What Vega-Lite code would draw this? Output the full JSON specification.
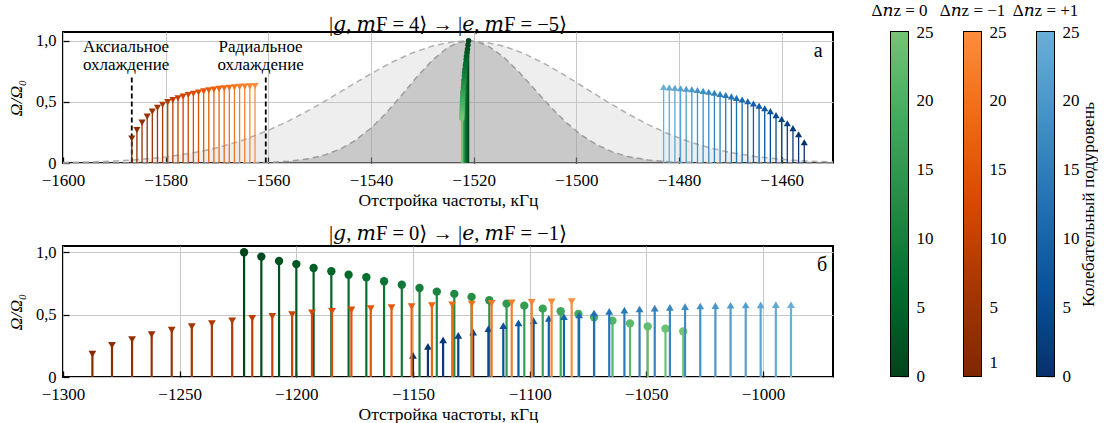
{
  "$schema": "https://vega.github.io/schema/vega-lite/v6.json",
  "background": "white",
  "padding": {"left": 6, "top": 1, "right": 0, "bottom": 0},
  "config": {
    "font": "Liberation Serif, DejaVu Serif, serif",
    "view": {"stroke": "black", "strokeWidth": 2},
    "axis": {
      "labelFont": "Liberation Serif, DejaVu Serif, serif", "titleFont": "Liberation Serif, DejaVu Serif, serif",
      "labelFontSize": 17, "titleFontSize": 17.5, "titleFontWeight": "normal",
      "labelColor": "black", "titleColor": "black", "domain": false, "labelFlush": false,
      "tickColor": "black", "tickSize": -6, "tickWidth": 1.3, "labelPadding": 13,
      "gridColor": "#c8c8c8", "gridWidth": 1, "labelOverlap": false
    },
    "axisY": {"labelFontSize": 16.5},
    "axisX": {"labelPadding": 15},
    "title": {"font": "Liberation Serif, DejaVu Serif, serif", "fontSize": 20.5, "fontWeight": "normal", "color": "black", "baseline": "alphabetic", "offset": -3}
  },
  "datasets": {
    "gw": [
      {"f": -1600, "r": 0.004}, {"f": -1595, "r": 0.009}, {"f": -1590, "r": 0.016}, {"f": -1585, "r": 0.029},
      {"f": -1580, "r": 0.049}, {"f": -1575, "r": 0.080}, {"f": -1570, "r": 0.124}, {"f": -1565, "r": 0.186},
      {"f": -1560, "r": 0.267}, {"f": -1556, "r": 0.345}, {"f": -1552, "r": 0.434}, {"f": -1548, "r": 0.531},
      {"f": -1544, "r": 0.632}, {"f": -1540, "r": 0.731}, {"f": -1536, "r": 0.823}, {"f": -1532, "r": 0.900},
      {"f": -1528, "r": 0.958}, {"f": -1524, "r": 0.992}, {"f": -1521, "r": 1.0}, {"f": -1518, "r": 0.991},
      {"f": -1514, "r": 0.955}, {"f": -1510, "r": 0.892}, {"f": -1506, "r": 0.808}, {"f": -1502, "r": 0.711},
      {"f": -1498, "r": 0.607}, {"f": -1494, "r": 0.502}, {"f": -1490, "r": 0.403}, {"f": -1486, "r": 0.314},
      {"f": -1482, "r": 0.237}, {"f": -1478, "r": 0.174}, {"f": -1474, "r": 0.124}, {"f": -1470, "r": 0.086},
      {"f": -1465, "r": 0.052}, {"f": -1460, "r": 0.030}, {"f": -1455, "r": 0.016}, {"f": -1450, "r": 0.009}
    ],
    "gn": [
      {"f": -1600, "r": 0}, {"f": -1575, "r": 0}, {"f": -1570, "r": 0.0002}, {"f": -1565, "r": 0.001},
      {"f": -1560, "r": 0.005}, {"f": -1556, "r": 0.014}, {"f": -1552, "r": 0.036}, {"f": -1549, "r": 0.066},
      {"f": -1546, "r": 0.114}, {"f": -1543, "r": 0.186}, {"f": -1540, "r": 0.286}, {"f": -1537, "r": 0.411},
      {"f": -1534, "r": 0.556}, {"f": -1531, "r": 0.707}, {"f": -1528, "r": 0.843}, {"f": -1525, "r": 0.946},
      {"f": -1523, "r": 0.986}, {"f": -1521, "r": 1.0}, {"f": -1519, "r": 0.988}, {"f": -1517, "r": 0.952},
      {"f": -1514, "r": 0.861}, {"f": -1511, "r": 0.737}, {"f": -1508, "r": 0.597}, {"f": -1505, "r": 0.458},
      {"f": -1502, "r": 0.332}, {"f": -1499, "r": 0.228}, {"f": -1496, "r": 0.149}, {"f": -1493, "r": 0.091},
      {"f": -1490, "r": 0.053}, {"f": -1486, "r": 0.024}, {"f": -1482, "r": 0.010}, {"f": -1476, "r": 0.002},
      {"f": -1470, "r": 0.0004}, {"f": -1460, "r": 0}, {"f": -1450, "r": 0}
    ],
    "cool": [{"f": -1586.6, "r": 0.70}, {"f": -1560.5, "r": 0.70}],
    "notes": [
      {"p": "a", "k": "cool", "f": -1587.7, "r": 0.908, "t": "Аксиальное\nохлаждение"},
      {"p": "a", "k": "cool", "f": -1561.5, "r": 0.908, "t": "Радиальное\nохлаждение"},
      {"p": "a", "k": "corner", "f": -1452, "r": 0.868, "t": "а"},
      {"p": "b", "k": "corner", "f": -972.5, "r": 0.851, "t": "б"}
    ],
    "cb": [{"lo": 0, "hi": 25}],
    "stems": [
      {"p": "a", "s": "g", "n": 0, "f": -1521.0, "r": 1.0},
      {"p": "a", "s": "g", "n": 1, "f": -1521.1, "r": 0.965},
      {"p": "a", "s": "g", "n": 2, "f": -1521.2, "r": 0.93},
      {"p": "a", "s": "g", "n": 3, "f": -1521.3, "r": 0.905},
      {"p": "a", "s": "g", "n": 4, "f": -1521.4, "r": 0.874},
      {"p": "a", "s": "g", "n": 5, "f": -1521.45, "r": 0.848},
      {"p": "a", "s": "g", "n": 6, "f": -1521.5, "r": 0.82},
      {"p": "a", "s": "g", "n": 7, "f": -1521.6, "r": 0.80},
      {"p": "a", "s": "g", "n": 8, "f": -1521.7, "r": 0.767},
      {"p": "a", "s": "g", "n": 9, "f": -1521.75, "r": 0.74},
      {"p": "a", "s": "g", "n": 10, "f": -1521.8, "r": 0.714},
      {"p": "a", "s": "g", "n": 11, "f": -1521.85, "r": 0.684},
      {"p": "a", "s": "g", "n": 12, "f": -1521.9, "r": 0.666},
      {"p": "a", "s": "g", "n": 13, "f": -1521.95, "r": 0.642},
      {"p": "a", "s": "g", "n": 14, "f": -1522.0, "r": 0.615},
      {"p": "a", "s": "g", "n": 15, "f": -1522.05, "r": 0.588},
      {"p": "a", "s": "g", "n": 16, "f": -1522.1, "r": 0.572},
      {"p": "a", "s": "g", "n": 17, "f": -1522.12, "r": 0.548},
      {"p": "a", "s": "g", "n": 18, "f": -1522.15, "r": 0.527},
      {"p": "a", "s": "g", "n": 19, "f": -1522.18, "r": 0.505},
      {"p": "a", "s": "g", "n": 20, "f": -1522.2, "r": 0.479},
      {"p": "a", "s": "g", "n": 21, "f": -1522.23, "r": 0.452},
      {"p": "a", "s": "g", "n": 22, "f": -1522.25, "r": 0.43},
      {"p": "a", "s": "g", "n": 23, "f": -1522.28, "r": 0.406},
      {"p": "a", "s": "g", "n": 24, "f": -1522.3, "r": 0.388},
      {"p": "a", "s": "g", "n": 25, "f": -1522.32, "r": 0.366},
      {"p": "a", "s": "o", "n": 1, "f": -1586.6, "r": 0.20},
      {"p": "a", "s": "o", "n": 2, "f": -1585.6, "r": 0.27},
      {"p": "a", "s": "o", "n": 3, "f": -1584.6, "r": 0.33},
      {"p": "a", "s": "o", "n": 4, "f": -1583.6, "r": 0.38},
      {"p": "a", "s": "o", "n": 5, "f": -1582.6, "r": 0.42},
      {"p": "a", "s": "o", "n": 6, "f": -1581.6, "r": 0.452},
      {"p": "a", "s": "o", "n": 7, "f": -1580.6, "r": 0.477},
      {"p": "a", "s": "o", "n": 8, "f": -1579.6, "r": 0.498},
      {"p": "a", "s": "o", "n": 9, "f": -1578.6, "r": 0.515},
      {"p": "a", "s": "o", "n": 10, "f": -1577.6, "r": 0.53},
      {"p": "a", "s": "o", "n": 11, "f": -1576.6, "r": 0.544},
      {"p": "a", "s": "o", "n": 12, "f": -1575.6, "r": 0.556},
      {"p": "a", "s": "o", "n": 13, "f": -1574.6, "r": 0.567},
      {"p": "a", "s": "o", "n": 14, "f": -1573.6, "r": 0.577},
      {"p": "a", "s": "o", "n": 15, "f": -1572.6, "r": 0.586},
      {"p": "a", "s": "o", "n": 16, "f": -1571.6, "r": 0.594},
      {"p": "a", "s": "o", "n": 17, "f": -1570.6, "r": 0.601},
      {"p": "a", "s": "o", "n": 18, "f": -1569.6, "r": 0.607},
      {"p": "a", "s": "o", "n": 19, "f": -1568.6, "r": 0.612},
      {"p": "a", "s": "o", "n": 20, "f": -1567.6, "r": 0.616},
      {"p": "a", "s": "o", "n": 21, "f": -1566.6, "r": 0.62},
      {"p": "a", "s": "o", "n": 22, "f": -1565.6, "r": 0.623},
      {"p": "a", "s": "o", "n": 23, "f": -1564.6, "r": 0.625},
      {"p": "a", "s": "o", "n": 24, "f": -1563.6, "r": 0.627},
      {"p": "a", "s": "o", "n": 25, "f": -1562.6, "r": 0.629},
      {"p": "a", "s": "b", "n": 0, "f": -1455.6, "r": 0.17},
      {"p": "a", "s": "b", "n": 1, "f": -1456.7, "r": 0.235},
      {"p": "a", "s": "b", "n": 2, "f": -1457.8, "r": 0.285},
      {"p": "a", "s": "b", "n": 3, "f": -1458.9, "r": 0.325},
      {"p": "a", "s": "b", "n": 4, "f": -1460.0, "r": 0.36},
      {"p": "a", "s": "b", "n": 5, "f": -1461.1, "r": 0.392},
      {"p": "a", "s": "b", "n": 6, "f": -1462.2, "r": 0.425},
      {"p": "a", "s": "b", "n": 7, "f": -1463.3, "r": 0.448},
      {"p": "a", "s": "b", "n": 8, "f": -1464.4, "r": 0.468},
      {"p": "a", "s": "b", "n": 9, "f": -1465.5, "r": 0.487},
      {"p": "a", "s": "b", "n": 10, "f": -1466.6, "r": 0.505},
      {"p": "a", "s": "b", "n": 11, "f": -1467.7, "r": 0.52},
      {"p": "a", "s": "b", "n": 12, "f": -1468.8, "r": 0.533},
      {"p": "a", "s": "b", "n": 13, "f": -1469.8, "r": 0.545},
      {"p": "a", "s": "b", "n": 14, "f": -1470.9, "r": 0.556},
      {"p": "a", "s": "b", "n": 15, "f": -1472.0, "r": 0.566},
      {"p": "a", "s": "b", "n": 16, "f": -1473.1, "r": 0.575},
      {"p": "a", "s": "b", "n": 17, "f": -1474.2, "r": 0.583},
      {"p": "a", "s": "b", "n": 18, "f": -1475.3, "r": 0.59},
      {"p": "a", "s": "b", "n": 19, "f": -1476.4, "r": 0.597},
      {"p": "a", "s": "b", "n": 20, "f": -1477.5, "r": 0.603},
      {"p": "a", "s": "b", "n": 21, "f": -1478.6, "r": 0.608},
      {"p": "a", "s": "b", "n": 22, "f": -1479.7, "r": 0.612},
      {"p": "a", "s": "b", "n": 23, "f": -1480.8, "r": 0.616},
      {"p": "a", "s": "b", "n": 24, "f": -1481.9, "r": 0.619},
      {"p": "a", "s": "b", "n": 25, "f": -1483.0, "r": 0.622},
      {"p": "b", "s": "g", "n": 0, "f": -1222.4, "r": 1.0},
      {"p": "b", "s": "g", "n": 1, "f": -1215.0, "r": 0.965},
      {"p": "b", "s": "g", "n": 2, "f": -1207.4, "r": 0.93},
      {"p": "b", "s": "g", "n": 3, "f": -1200.0, "r": 0.905},
      {"p": "b", "s": "g", "n": 4, "f": -1192.6, "r": 0.874},
      {"p": "b", "s": "g", "n": 5, "f": -1185.0, "r": 0.848},
      {"p": "b", "s": "g", "n": 6, "f": -1177.6, "r": 0.82},
      {"p": "b", "s": "g", "n": 7, "f": -1170.0, "r": 0.80},
      {"p": "b", "s": "g", "n": 8, "f": -1162.4, "r": 0.767},
      {"p": "b", "s": "g", "n": 9, "f": -1154.8, "r": 0.74},
      {"p": "b", "s": "g", "n": 10, "f": -1147.2, "r": 0.714},
      {"p": "b", "s": "g", "n": 11, "f": -1139.8, "r": 0.684},
      {"p": "b", "s": "g", "n": 12, "f": -1132.3, "r": 0.666},
      {"p": "b", "s": "g", "n": 13, "f": -1124.9, "r": 0.642},
      {"p": "b", "s": "g", "n": 14, "f": -1117.3, "r": 0.615},
      {"p": "b", "s": "g", "n": 15, "f": -1109.9, "r": 0.588},
      {"p": "b", "s": "g", "n": 16, "f": -1102.3, "r": 0.572},
      {"p": "b", "s": "g", "n": 17, "f": -1094.4, "r": 0.548},
      {"p": "b", "s": "g", "n": 18, "f": -1086.7, "r": 0.527},
      {"p": "b", "s": "g", "n": 19, "f": -1079.1, "r": 0.505},
      {"p": "b", "s": "g", "n": 20, "f": -1072.4, "r": 0.479},
      {"p": "b", "s": "g", "n": 21, "f": -1064.5, "r": 0.452},
      {"p": "b", "s": "g", "n": 22, "f": -1057.0, "r": 0.43},
      {"p": "b", "s": "g", "n": 23, "f": -1049.4, "r": 0.406},
      {"p": "b", "s": "g", "n": 24, "f": -1041.8, "r": 0.388},
      {"p": "b", "s": "g", "n": 25, "f": -1034.2, "r": 0.366},
      {"p": "b", "s": "o", "n": 1, "f": -1287.4, "r": 0.184},
      {"p": "b", "s": "o", "n": 2, "f": -1279.0, "r": 0.254},
      {"p": "b", "s": "o", "n": 3, "f": -1270.4, "r": 0.30},
      {"p": "b", "s": "o", "n": 4, "f": -1262.0, "r": 0.34},
      {"p": "b", "s": "o", "n": 5, "f": -1253.4, "r": 0.375},
      {"p": "b", "s": "o", "n": 6, "f": -1244.8, "r": 0.404},
      {"p": "b", "s": "o", "n": 7, "f": -1236.2, "r": 0.428},
      {"p": "b", "s": "o", "n": 8, "f": -1227.5, "r": 0.45},
      {"p": "b", "s": "o", "n": 9, "f": -1218.9, "r": 0.47},
      {"p": "b", "s": "o", "n": 10, "f": -1210.3, "r": 0.486},
      {"p": "b", "s": "o", "n": 11, "f": -1201.8, "r": 0.50},
      {"p": "b", "s": "o", "n": 12, "f": -1193.3, "r": 0.515},
      {"p": "b", "s": "o", "n": 13, "f": -1184.7, "r": 0.527},
      {"p": "b", "s": "o", "n": 14, "f": -1176.4, "r": 0.538},
      {"p": "b", "s": "o", "n": 15, "f": -1168.1, "r": 0.548},
      {"p": "b", "s": "o", "n": 16, "f": -1159.2, "r": 0.556},
      {"p": "b", "s": "o", "n": 17, "f": -1150.6, "r": 0.565},
      {"p": "b", "s": "o", "n": 18, "f": -1141.9, "r": 0.572},
      {"p": "b", "s": "o", "n": 19, "f": -1133.2, "r": 0.579},
      {"p": "b", "s": "o", "n": 20, "f": -1124.8, "r": 0.585},
      {"p": "b", "s": "o", "n": 21, "f": -1116.3, "r": 0.59},
      {"p": "b", "s": "o", "n": 22, "f": -1107.7, "r": 0.595},
      {"p": "b", "s": "o", "n": 23, "f": -1099.1, "r": 0.599},
      {"p": "b", "s": "o", "n": 24, "f": -1090.6, "r": 0.602},
      {"p": "b", "s": "o", "n": 25, "f": -1082.0, "r": 0.604},
      {"p": "b", "s": "b", "n": 0, "f": -1150.0, "r": 0.174},
      {"p": "b", "s": "b", "n": 1, "f": -1143.6, "r": 0.246},
      {"p": "b", "s": "b", "n": 2, "f": -1137.1, "r": 0.297},
      {"p": "b", "s": "b", "n": 3, "f": -1130.6, "r": 0.334},
      {"p": "b", "s": "b", "n": 4, "f": -1124.2, "r": 0.36},
      {"p": "b", "s": "b", "n": 5, "f": -1117.7, "r": 0.388},
      {"p": "b", "s": "b", "n": 6, "f": -1111.3, "r": 0.412},
      {"p": "b", "s": "b", "n": 7, "f": -1104.8, "r": 0.433},
      {"p": "b", "s": "b", "n": 8, "f": -1098.3, "r": 0.452},
      {"p": "b", "s": "b", "n": 9, "f": -1091.8, "r": 0.47},
      {"p": "b", "s": "b", "n": 10, "f": -1085.3, "r": 0.484},
      {"p": "b", "s": "b", "n": 11, "f": -1078.8, "r": 0.497},
      {"p": "b", "s": "b", "n": 12, "f": -1072.4, "r": 0.513},
      {"p": "b", "s": "b", "n": 13, "f": -1065.9, "r": 0.526},
      {"p": "b", "s": "b", "n": 14, "f": -1059.4, "r": 0.536},
      {"p": "b", "s": "b", "n": 15, "f": -1052.9, "r": 0.545},
      {"p": "b", "s": "b", "n": 16, "f": -1046.4, "r": 0.552},
      {"p": "b", "s": "b", "n": 17, "f": -1039.9, "r": 0.558},
      {"p": "b", "s": "b", "n": 18, "f": -1033.4, "r": 0.564},
      {"p": "b", "s": "b", "n": 19, "f": -1026.9, "r": 0.569},
      {"p": "b", "s": "b", "n": 20, "f": -1020.4, "r": 0.572},
      {"p": "b", "s": "b", "n": 21, "f": -1013.9, "r": 0.575},
      {"p": "b", "s": "b", "n": 22, "f": -1007.4, "r": 0.577},
      {"p": "b", "s": "b", "n": 23, "f": -1001.0, "r": 0.578},
      {"p": "b", "s": "b", "n": 24, "f": -994.5, "r": 0.58},
      {"p": "b", "s": "b", "n": 25, "f": -988.0, "r": 0.58}
    ]
  },
  "spacing": 33,
  "hconcat": [
    {
      "spacing": 12,
      "vconcat": [
        {
          "width": 770, "height": 131,
          "title": {"text": "|𝑔, 𝑚F = 4⟩ → |𝑒, 𝑚F = −5⟩"},
          "encoding": {
            "x": {"field": "f", "type": "quantitative", "scale": {"domain": [-1600, -1450], "nice": false, "zero": false},
                  "axis": {"values": [-1600, -1580, -1560, -1540, -1520, -1500, -1480, -1460], "format": "d", "title": "Отстройка частоты, кГц", "titlePadding": 3}},
            "y": {"field": "r", "type": "quantitative", "scale": {"domain": [0, 1.072], "nice": false},
                  "axis": {"values": [0, 0.5, 1], "labelExpr": "datum.value == 0 ? '0' : replace(format(datum.value, '.1f'), '.', ',')", "title": "Ω/Ω₀", "titleFontStyle": "italic", "titlePadding": 10}}
          },
          "layer": [
            {"data": {"name": "gw"}, "mark": {"type": "area", "color": "#bbbbbb", "opacity": 0.25}},
            {"data": {"name": "gw"}, "mark": {"type": "line", "color": "#b0b0b0", "strokeDash": [6, 4], "strokeWidth": 1.5}},
            {"data": {"name": "gn"}, "mark": {"type": "area", "color": "#969696", "opacity": 0.42}},
            {"data": {"name": "gn"}, "mark": {"type": "line", "color": "#9c9c9c", "strokeDash": [6, 4], "strokeWidth": 1.5}},
            {"data": {"name": "cool"}, "mark": {"type": "rule", "color": "black", "strokeDash": [5, 3], "strokeWidth": 1.8}, "encoding": {"y2": {"datum": 0}}},
            {"data": {"name": "notes"}, "transform": [{"filter": "datum.p == 'a' && datum.k == 'cool'"}],
             "mark": {"type": "text", "font": "Liberation Serif, DejaVu Serif, serif", "fontSize": 17, "lineBreak": "\n", "lineHeight": 17.5, "baseline": "alphabetic", "align": "center", "color": "black"},
             "encoding": {"text": {"field": "t"}}},
            {"data": {"name": "notes"}, "transform": [{"filter": "datum.p == 'a' && datum.k == 'corner'"}],
             "mark": {"type": "text", "font": "Liberation Serif, DejaVu Serif, serif", "fontSize": 20, "baseline": "alphabetic", "align": "right", "color": "black"},
             "encoding": {"text": {"field": "t"}}},
            {"data": {"name": "stems"}, "transform": [{"filter": "datum.p == 'a' && datum.s == 'o'"}],
             "mark": {"type": "rule", "strokeWidth": 1.3},
             "encoding": {"y2": {"datum": 0}, "color": {"field": "n", "type": "quantitative", "legend": null, "scale": {"domain": [0, 6.25, 12.5, 18.75, 25], "range": ["#7f2704", "#a63603", "#d94801", "#f16913", "#fd8d3c"], "interpolate": "rgb"}}}},
            {"data": {"name": "stems"}, "transform": [{"filter": "datum.p == 'a' && datum.s == 'o'"}],
             "mark": {"type": "point", "shape": "triangle-down", "filled": true, "size": 50, "opacity": 1},
             "encoding": {"color": {"field": "n", "type": "quantitative", "legend": null, "scale": {"domain": [0, 6.25, 12.5, 18.75, 25], "range": ["#7f2704", "#a63603", "#d94801", "#f16913", "#fd8d3c"], "interpolate": "rgb"}}}},
            {"data": {"name": "stems"}, "transform": [{"filter": "datum.p == 'a' && datum.s == 'b'"}],
             "mark": {"type": "rule", "strokeWidth": 1.3},
             "encoding": {"y2": {"datum": 0}, "color": {"field": "n", "type": "quantitative", "legend": null, "scale": {"domain": [0, 6.25, 12.5, 18.75, 25], "range": ["#08306b", "#08519c", "#2171b5", "#4292c6", "#6baed6"], "interpolate": "rgb"}}}},
            {"data": {"name": "stems"}, "transform": [{"filter": "datum.p == 'a' && datum.s == 'b'"}],
             "mark": {"type": "point", "shape": "triangle-up", "filled": true, "size": 50, "opacity": 1},
             "encoding": {"color": {"field": "n", "type": "quantitative", "legend": null, "scale": {"domain": [0, 6.25, 12.5, 18.75, 25], "range": ["#08306b", "#08519c", "#2171b5", "#4292c6", "#6baed6"], "interpolate": "rgb"}}}},
            {"data": {"name": "stems"}, "transform": [{"filter": "datum.p == 'a' && datum.s == 'g'"}],
             "mark": {"type": "rule", "strokeWidth": 1.5},
             "encoding": {"y2": {"datum": 0}, "color": {"field": "n", "type": "quantitative", "legend": null, "scale": {"domain": [0, 6.25, 12.5, 18.75, 25], "range": ["#00441b", "#006d2c", "#238b45", "#41ab5d", "#74c476"], "interpolate": "rgb"}}}},
            {"data": {"name": "stems"}, "transform": [{"filter": "datum.p == 'a' && datum.s == 'g'"}],
             "mark": {"type": "point", "shape": "circle", "filled": true, "size": 30, "opacity": 1},
             "encoding": {"color": {"field": "n", "type": "quantitative", "legend": null, "scale": {"domain": [0, 6.25, 12.5, 18.75, 25], "range": ["#00441b", "#006d2c", "#238b45", "#41ab5d", "#74c476"], "interpolate": "rgb"}}}}
          ],
          "resolve": {"scale": {"color": "independent"}}
        },
        {
          "width": 770, "height": 131,
          "title": {"text": "|𝑔, 𝑚F = 0⟩ → |𝑒, 𝑚F = −1⟩", "offset": 0},
          "encoding": {
            "x": {"field": "f", "type": "quantitative", "scale": {"domain": [-1300, -970], "nice": false, "zero": false},
                  "axis": {"values": [-1300, -1250, -1200, -1150, -1100, -1050, -1000], "format": "d", "title": "Отстройка частоты, кГц", "titlePadding": 3}},
            "y": {"field": "r", "type": "quantitative", "scale": {"domain": [0, 1.05], "nice": false},
                  "axis": {"values": [0, 0.5, 1], "labelExpr": "datum.value == 0 ? '0' : replace(format(datum.value, '.1f'), '.', ',')", "title": "Ω/Ω₀", "titleFontStyle": "italic", "titlePadding": 10}}
          },
          "layer": [
            {"data": {"name": "notes"}, "transform": [{"filter": "datum.p == 'b' && datum.k == 'corner'"}],
             "mark": {"type": "text", "font": "Liberation Serif, DejaVu Serif, serif", "fontSize": 20, "baseline": "alphabetic", "align": "right", "color": "black"},
             "encoding": {"text": {"field": "t"}}},
            {"data": {"name": "stems"}, "transform": [{"filter": "datum.p == 'b' && datum.s == 'g'"}],
             "mark": {"type": "rule", "strokeWidth": 2.2},
             "encoding": {"y2": {"datum": 0}, "color": {"field": "n", "type": "quantitative", "legend": null, "scale": {"domain": [0, 6.25, 12.5, 18.75, 25], "range": ["#00441b", "#006d2c", "#238b45", "#41ab5d", "#74c476"], "interpolate": "rgb"}}}},
            {"data": {"name": "stems"}, "transform": [{"filter": "datum.p == 'b' && datum.s == 'g'"}],
             "mark": {"type": "point", "shape": "circle", "filled": true, "size": 70, "opacity": 1},
             "encoding": {"color": {"field": "n", "type": "quantitative", "legend": null, "scale": {"domain": [0, 6.25, 12.5, 18.75, 25], "range": ["#00441b", "#006d2c", "#238b45", "#41ab5d", "#74c476"], "interpolate": "rgb"}}}},
            {"data": {"name": "stems"}, "transform": [{"filter": "datum.p == 'b' && datum.s == 'b'"}],
             "mark": {"type": "rule", "strokeWidth": 2.2},
             "encoding": {"y2": {"datum": 0}, "color": {"field": "n", "type": "quantitative", "legend": null, "scale": {"domain": [0, 6.25, 12.5, 18.75, 25], "range": ["#08306b", "#08519c", "#2171b5", "#4292c6", "#6baed6"], "interpolate": "rgb"}}}},
            {"data": {"name": "stems"}, "transform": [{"filter": "datum.p == 'b' && datum.s == 'b'"}],
             "mark": {"type": "point", "shape": "triangle-up", "filled": true, "size": 60, "opacity": 1},
             "encoding": {"color": {"field": "n", "type": "quantitative", "legend": null, "scale": {"domain": [0, 6.25, 12.5, 18.75, 25], "range": ["#08306b", "#08519c", "#2171b5", "#4292c6", "#6baed6"], "interpolate": "rgb"}}}},
            {"data": {"name": "stems"}, "transform": [{"filter": "datum.p == 'b' && datum.s == 'o'"}],
             "mark": {"type": "rule", "strokeWidth": 2.2},
             "encoding": {"y2": {"datum": 0}, "color": {"field": "n", "type": "quantitative", "legend": null, "scale": {"domain": [0, 6.25, 12.5, 18.75, 25], "range": ["#7f2704", "#a63603", "#d94801", "#f16913", "#fd8d3c"], "interpolate": "rgb"}}}},
            {"data": {"name": "stems"}, "transform": [{"filter": "datum.p == 'b' && datum.s == 'o'"}],
             "mark": {"type": "point", "shape": "triangle-down", "filled": true, "size": 60, "opacity": 1},
             "encoding": {"color": {"field": "n", "type": "quantitative", "legend": null, "scale": {"domain": [0, 6.25, 12.5, 18.75, 25], "range": ["#7f2704", "#a63603", "#d94801", "#f16913", "#fd8d3c"], "interpolate": "rgb"}}}}
          ],
          "resolve": {"scale": {"color": "independent"}}
        }
      ]
    },
    {
      "spacing": 4,
      "hconcat": [
        {
          "width": 17, "height": 344,
          "title": {"text": "Δ𝑛z = 0", "fontSize": 17, "offset": 3},
          "data": {"name": "cb"},
          "mark": {"type": "rect", "fill": {"gradient": "linear", "x1": 0, "y1": 1, "x2": 0, "y2": 0, "stops": [{"offset": 0, "color": "#00441b"}, {"offset": 0.25, "color": "#006d2c"}, {"offset": 0.5, "color": "#238b45"}, {"offset": 0.75, "color": "#41ab5d"}, {"offset": 1, "color": "#74c476"}]}},
          "encoding": {
            "x": {"datum": 0, "type": "quantitative", "scale": {"domain": [0, 1]}, "axis": null},
            "x2": {"datum": 1},
            "y": {"field": "lo", "type": "quantitative", "scale": {"domain": [0, 25], "nice": false}, "axis": {"orient": "right", "values": [0, 5, 10, 15, 20, 25], "grid": false, "tickSize": -8, "labelPadding": 16, "labelFontSize": 17, "title": null}},
            "y2": {"field": "hi"}
          }
        },
        {
          "width": 17, "height": 344,
          "title": {"text": "Δ𝑛z = −1", "fontSize": 17, "offset": 3},
          "data": {"name": "cb"},
          "mark": {"type": "rect", "fill": {"gradient": "linear", "x1": 0, "y1": 1, "x2": 0, "y2": 0, "stops": [{"offset": 0, "color": "#7f2704"}, {"offset": 0.25, "color": "#a63603"}, {"offset": 0.5, "color": "#d94801"}, {"offset": 0.75, "color": "#f16913"}, {"offset": 1, "color": "#fd8d3c"}]}},
          "encoding": {
            "x": {"datum": 0, "type": "quantitative", "scale": {"domain": [0, 1]}, "axis": null},
            "x2": {"datum": 1},
            "y": {"field": "lo", "type": "quantitative", "scale": {"domain": [0, 25], "nice": false}, "axis": {"orient": "right", "values": [1, 5, 10, 15, 20, 25], "grid": false, "tickSize": -8, "labelPadding": 16, "labelFontSize": 17, "title": null}},
            "y2": {"field": "hi"}
          }
        },
        {
          "width": 17, "height": 344,
          "title": {"text": "Δ𝑛z = +1", "fontSize": 17, "offset": 3},
          "data": {"name": "cb"},
          "mark": {"type": "rect", "fill": {"gradient": "linear", "x1": 0, "y1": 1, "x2": 0, "y2": 0, "stops": [{"offset": 0, "color": "#08306b"}, {"offset": 0.25, "color": "#08519c"}, {"offset": 0.5, "color": "#2171b5"}, {"offset": 0.75, "color": "#4292c6"}, {"offset": 1, "color": "#6baed6"}]}},
          "encoding": {
            "x": {"datum": 0, "type": "quantitative", "scale": {"domain": [0, 1]}, "axis": null},
            "x2": {"datum": 1},
            "y": {"field": "lo", "type": "quantitative", "scale": {"domain": [0, 25], "nice": false}, "axis": {"orient": "right", "values": [0, 5, 10, 15, 20, 25], "grid": false, "tickSize": -8, "labelPadding": 16, "labelFontSize": 17, "title": "Колебательный подуровень", "titleAngle": 270, "titlePadding": 18}},
            "y2": {"field": "hi"}
          }
        }
      ]
    }
  ]
}
